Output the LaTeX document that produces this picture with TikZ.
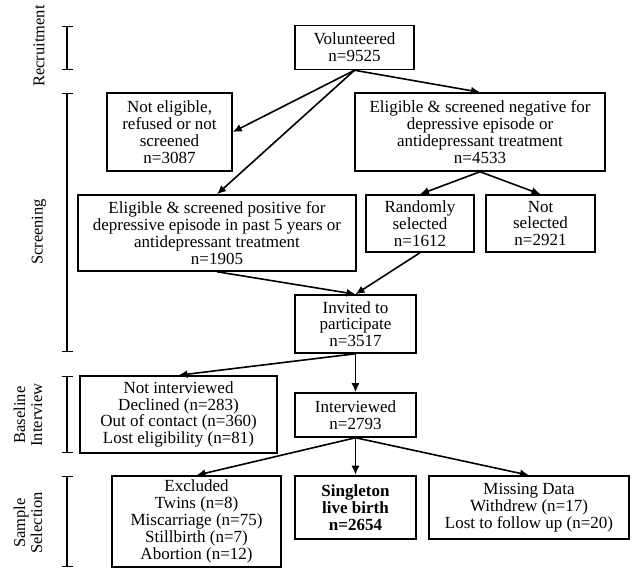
\documentclass[tikz,border=0pt]{standalone}
\usepackage{fontspec}
\setmainfont{Liberation Serif}
\usepackage{tikz}
\usetikzlibrary{arrows.meta}

\begin{document}
\begin{tikzpicture}[x=1pt, y=-1pt,
    box/.style={rectangle, draw, line width=1.5pt, align=center, inner sep=0pt, font=\fontsize{17}{16.8}\selectfont},
    arrow/.style={->, >={Latex[length=9pt,width=8pt]}, line width=1.6pt},
    bracket/.style={{Bar[width=11pt]}-{Bar[width=11pt]}, line width=1.4pt},
    stage/.style={rotate=90, align=center, font=\fontsize{16.5}{17}\selectfont}
]
\useasboundingbox (0,0) rectangle (638,577);

\node[box, minimum width=119pt, minimum height=44pt] (vol) at (354.5,47.5) {Volunteered\\n=9525};
\node[box, minimum width=125pt, minimum height=78pt] (noelig) at (169.5,132) {Not eligible,\\refused or not\\screened\\n=3087};
\node[box, minimum width=250pt, minimum height=78pt] (neg) at (480,132) {Eligible \& screened negative for\\depressive episode or\\antidepressant treatment\\n=4533};
\node[box, minimum width=278pt, minimum height=76pt] (pos) at (217,233) {Eligible \& screened positive for\\depressive episode in past 5 years or\\antidepressant treatment\\n=1905};
\node[box, minimum width=108pt, minimum height=57pt] (rand) at (420,223.5) {Randomly\\selected\\n=1612};
\node[box, minimum width=109pt, minimum height=57pt] (notsel) at (540.5,223.5) {Not\\selected\\n=2921};
\node[box, minimum width=121pt, minimum height=58pt] (invited) at (355.5,324) {Invited to\\participate\\n=3517};
\node[box, minimum width=197pt, minimum height=77pt] (notint) at (178.5,414.5) {Not interviewed\\Declined (n=283)\\Out of contact (n=360)\\Lost eligibility (n=81)};
\node[box, minimum width=121pt, minimum height=44pt] (interv) at (355.5,415) {Interviewed\\n=2793};
\node[box, minimum width=169pt, minimum height=91pt] (excl) at (196.5,521.5) {Excluded\\Twins (n=8)\\Miscarriage (n=75)\\Stillbirth (n=7)\\Abortion (n=12)};
\node[box, line width=2.5pt, minimum width=121pt, minimum height=63pt] (single) at (355.5,507.5) {\textbf{Singleton}\\\textbf{live birth}\\\textbf{n=2654}};
\node[box, minimum width=200pt, minimum height=63pt] (missing) at (529,507.5) {Missing Data\\Withdrew (n=17)\\Lost to follow up (n=20)};

\draw[arrow] (vol.south) -- (noelig.east);
\draw[arrow] (vol.south) -- (pos.north);
\draw[arrow] (vol.south) -- (neg.north);
\draw[arrow] (neg.south) -- (rand.north);
\draw[arrow] (neg.south) -- (notsel.north);
\draw[arrow] (pos.south) -- (invited.north);
\draw[arrow] (rand.south) -- (invited.north);
\draw[arrow] (invited.south) -- (interv.north);
\draw[arrow] (invited.south) -- (notint.north);
\draw[arrow] (interv.south) -- (excl.north);
\draw[arrow] (interv.south) -- (single.north);
\draw[arrow] (interv.south) -- (missing.north);

% stages on the left
\draw[bracket] (67,26) -- (67,70);
\draw[bracket] (67,93) -- (67,352);
\draw[bracket] (67,376) -- (67,453);
\draw[bracket] (67,476) -- (67,567);

\node[stage] (recruit) at (39,46) {Recruitment};
\node[stage] (screen) at (39,232) {Screening};
\node[stage] (baseline) at (28,415) {Baseline\\Interview};
\node[stage] (sample) at (28,523) {Sample\\Selection};

\end{tikzpicture}
\end{document}
